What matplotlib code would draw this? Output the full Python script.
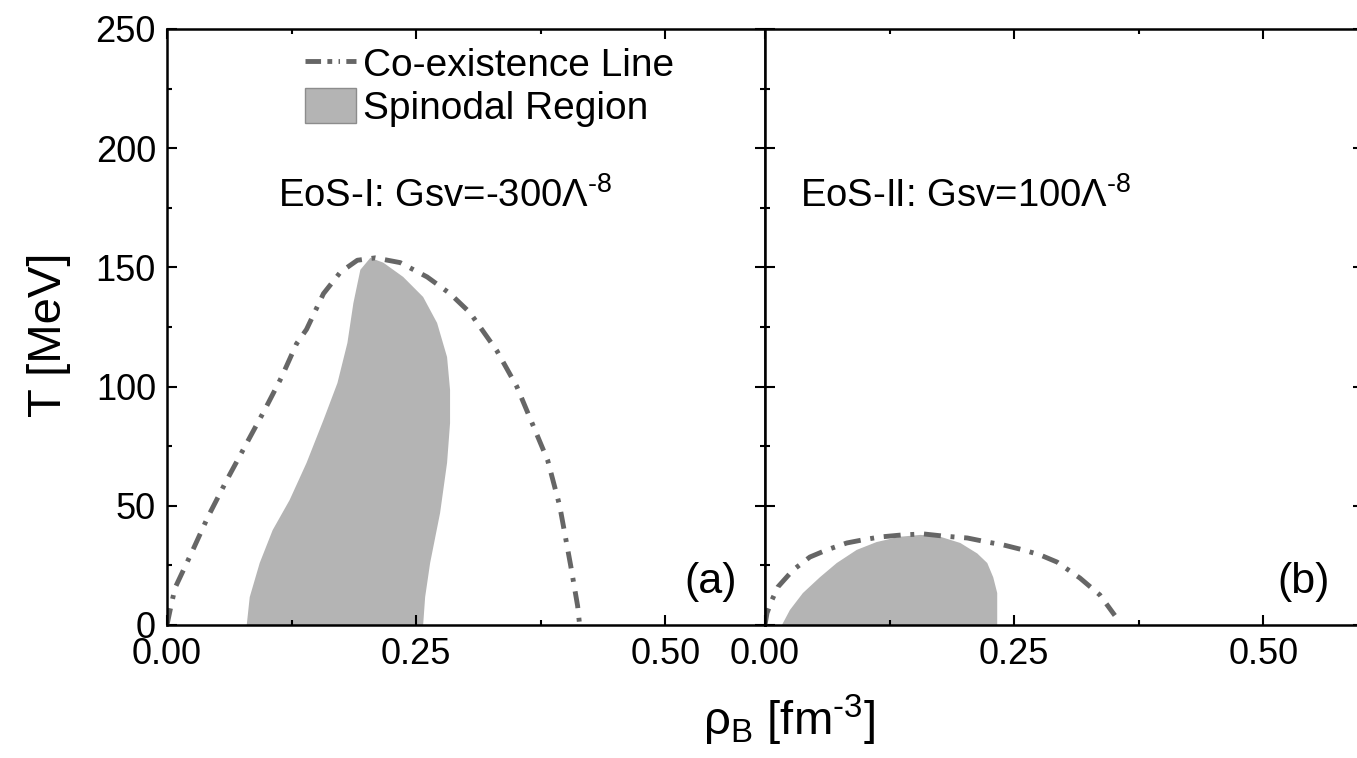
import matplotlib
matplotlib.use("Agg")
import matplotlib.pyplot as plt
from matplotlib.lines import Line2D
from matplotlib.patches import Patch
from matplotlib.ticker import MultipleLocator

plt.rcParams['font.family'] = ['Liberation Sans', 'DejaVu Sans']
plt.rcParams['mathtext.fontset'] = 'custom'
plt.rcParams['mathtext.rm'] = 'Liberation Sans'
plt.rcParams['mathtext.it'] = 'Liberation Sans:italic'

# ---- panel (a): EoS-I ----
coex_a_rho = [0.0, 0.003, 0.008, 0.025, 0.041, 0.060, 0.080, 0.098, 0.115, 0.130, 0.140,
              0.157, 0.174, 0.191, 0.209, 0.234, 0.261, 0.284, 0.304, 0.331, 0.351,
              0.382, 0.394, 0.405, 0.412, 0.414]
coex_a_T = [0, 6, 15.5, 30.6, 45.3, 60.8, 76.3, 90.2, 104, 118, 124,
            139, 148, 153, 154, 152, 146, 139, 131, 115, 100,
            69, 50, 25, 8, 0]

spin_a_rho = [0.080, 0.083, 0.093, 0.106, 0.123, 0.140, 0.157, 0.171, 0.181, 0.187, 0.194,
              0.204, 0.217, 0.237, 0.257, 0.271, 0.281, 0.284, 0.284, 0.281, 0.274,
              0.264, 0.259, 0.257]
spin_a_T = [0, 11.7, 26, 39.8, 52.4, 68, 86, 101.5, 118.3, 135, 149,
            154, 152, 146, 137.6, 126.7, 112.4, 98.6, 84.7, 68, 47,
            26, 11.7, 0]

# ---- panel (b): EoS-II ----
coex_b_rho = [0.0, 0.002, 0.007, 0.013, 0.028, 0.045, 0.062, 0.082, 0.098, 0.115, 0.138,
              0.159, 0.179, 0.203, 0.223, 0.239, 0.259, 0.276, 0.293, 0.316, 0.336, 0.351]
coex_b_T = [0, 5, 10.5, 16, 23, 28.5, 31.5, 34.4, 35.7, 36.9, 37.8,
            38.2, 37.3, 36.5, 34.8, 33.6, 31.5, 29.4, 26.4, 19.7, 12.6, 4]

spin_b_rho = [0.017, 0.025, 0.038, 0.055, 0.072, 0.092, 0.112, 0.135, 0.156, 0.176,
              0.196, 0.213, 0.223, 0.229, 0.233, 0.233, 0.233]
spin_b_T = [0, 6.3, 13.4, 20, 26, 31.5, 34.8, 37, 37.8, 37,
            34.4, 30, 26, 20, 13.4, 6, 0]

line_col = '#666666'
fill_col = '#b4b4b4'
dashdot = (0, (3.5, 2.0, 0.8, 2.0))

fig = plt.figure(figsize=(13.57, 7.58), dpi=100)
ax1 = fig.add_axes([167/1357, 133/758, 598/1357, 596/758])
ax2 = fig.add_axes([765/1357, 133/758, 598/1357, 596/758])

panels = [(ax1, coex_a_rho, coex_a_T, spin_a_rho, spin_a_T),
          (ax2, coex_b_rho, coex_b_T, spin_b_rho, spin_b_T)]

for ax, crho, cT, srho, sT in panels:
    ax.fill(srho, sT, color=fill_col, lw=0, zorder=1)
    ax.plot(crho, cT, color=line_col, lw=3.5, ls=dashdot, zorder=2)
    ax.set_xlim(0, 0.6)
    ax.set_ylim(0, 250)
    ax.xaxis.set_major_locator(MultipleLocator(0.25))
    ax.xaxis.set_minor_locator(MultipleLocator(0.125))
    ax.yaxis.set_major_locator(MultipleLocator(50))
    ax.yaxis.set_minor_locator(MultipleLocator(25))
    ax.xaxis.set_major_formatter(matplotlib.ticker.FormatStrFormatter('%.2f'))
    ax.tick_params(which='both', direction='in', top=True, right=True,
                   labelsize=26, width=1.5)
    ax.tick_params(axis='x', pad=9)
    ax.tick_params(axis='y', pad=8)
    ax.tick_params(which='major', length=7)
    ax.tick_params(which='minor', length=3.5)
    for sp in ax.spines.values():
        sp.set_linewidth(1.8)

ax2.tick_params(labelleft=False)

# legend
h_line = Line2D([], [], color=line_col, lw=3.5, ls=(0, (3.2, 1.3, 1.0, 1.3, 0.3, 1.3)))
h_patch = Patch(facecolor=fill_col, edgecolor='#8c8c8c', lw=1)
ax1.legend([h_line, h_patch], ['Co-existence Line', 'Spinodal Region'],
           loc='upper left', bbox_to_anchor=(0.231, 0.972), frameon=False,
           fontsize=28, handlelength=1.3, handleheight=1.0, handletextpad=0.2,
           labelspacing=0.1, borderpad=0, borderaxespad=0)

ax1.text(0.111, 180, r'EoS-I: Gsv=-300Λ$^{\text{-8}}$', fontsize=27.5, ha='left', va='center')
ax2.text(0.035, 180, r'EoS-II: Gsv=100Λ$^{\text{-8}}$', fontsize=27.5, ha='left', va='center')
ax1.text(0.572, 18, '(a)', fontsize=31, ha='right', va='center')
ax2.text(0.567, 18, '(b)', fontsize=31, ha='right', va='center')

fig.text(49/1357, 1 - 335/758, 'T [MeV]', rotation=90, fontsize=34, ha='center', va='center')
fig.text(789/1357, 1 - 720/758, r'ρ$_{\mathrm{B}}$ [fm$^{\text{-3}}$]', fontsize=34,
         ha='center', va='center')

fig.savefig('out.png', dpi=100)
